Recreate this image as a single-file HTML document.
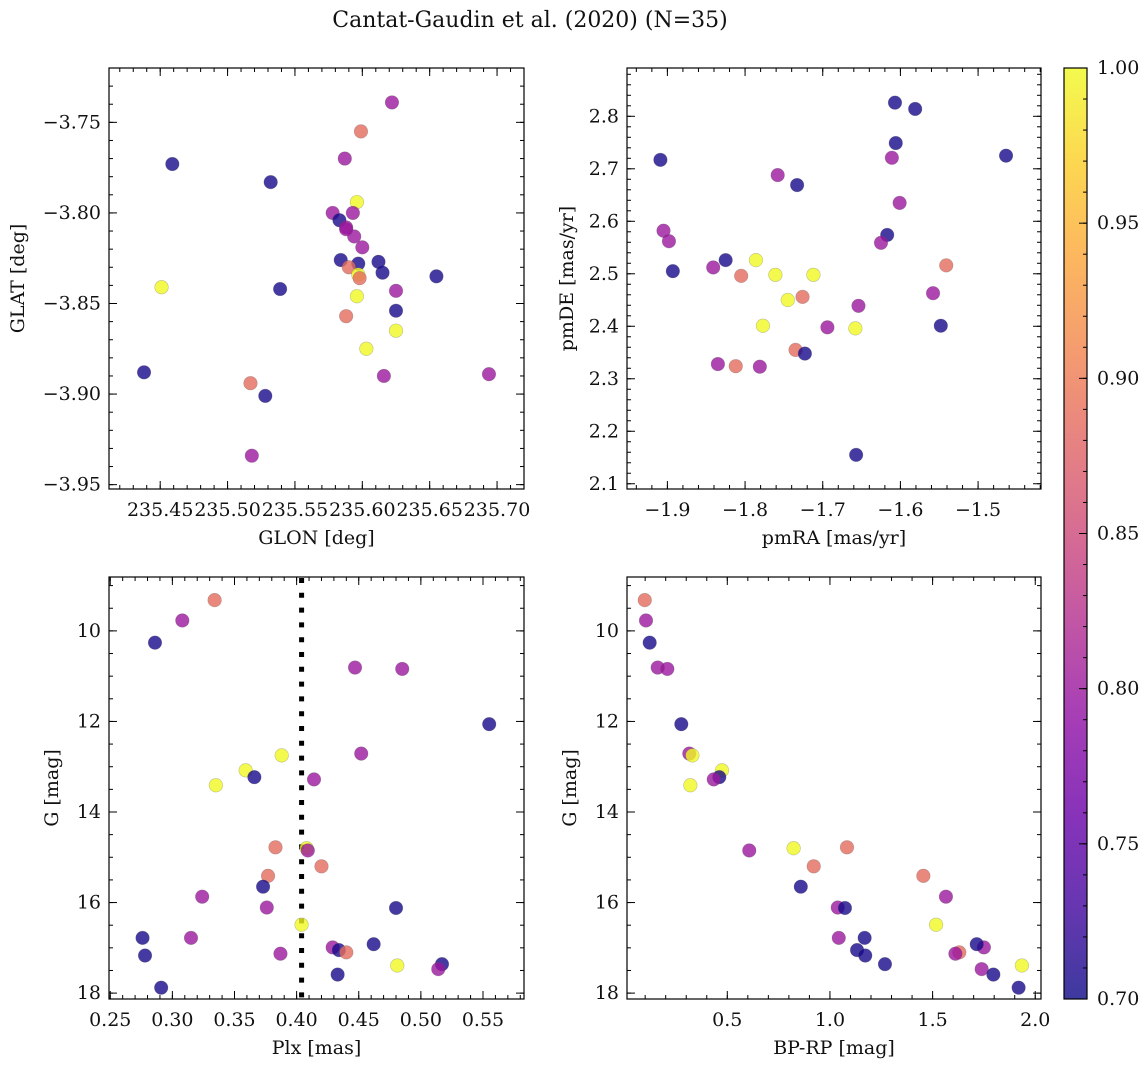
<!DOCTYPE html>
<html><head><meta charset="utf-8"><style>
html,body{margin:0;padding:0;background:#fff;}
svg{display:block;font-family:"DejaVu Serif","Liberation Serif",serif;}
</style></head><body>
<svg id="fig" width="1148" height="1067" viewBox="0 0 1148 1067" xmlns="http://www.w3.org/2000/svg">
<defs>
<linearGradient id="cbgrad" x1="0" y1="1" x2="0" y2="0"></linearGradient>
</defs>
<text x="530" y="27" font-size="22" text-anchor="middle" fill="#111">Cantat-Gaudin et al. (2020) (N=35)</text>
</svg>
<script>
// ---- data ----
const glon = [235.622,235.599,235.459,235.587,235.532,235.596,235.578,235.593,235.583,235.588,235.588,235.594,235.600,235.584,235.597,235.612,235.590,235.615,235.597,235.598,235.655,235.451,235.539,235.625,235.596,235.625,235.588,235.625,235.603,235.438,235.694,235.616,235.517,235.528,235.518];
const glat = [-3.739,-3.755,-3.773,-3.770,-3.783,-3.794,-3.800,-3.800,-3.804,-3.808,-3.809,-3.813,-3.819,-3.826,-3.828,-3.827,-3.830,-3.833,-3.834,-3.836,-3.835,-3.841,-3.842,-3.843,-3.846,-3.854,-3.857,-3.865,-3.875,-3.888,-3.889,-3.890,-3.894,-3.901,-3.934];
const probPos = [0.80,0.886,0.705,0.80,0.705,1.0,0.80,0.80,0.705,0.80,0.80,0.80,0.80,0.705,0.705,0.705,0.886,0.705,1.0,0.886,0.705,1.0,0.705,0.80,1.0,0.705,0.886,1.0,1.0,0.705,0.80,0.80,0.886,0.705,0.80];

const pmra = [-1.607,-1.581,-1.909,-1.464,-1.606,-1.611,-1.758,-1.733,-1.601,-1.905,-1.898,-1.825,-1.617,-1.625,-1.893,-1.841,-1.805,-1.786,-1.761,-1.712,-1.541,-1.726,-1.745,-1.558,-1.654,-1.777,-1.694,-1.658,-1.548,-1.835,-1.812,-1.781,-1.735,-1.723,-1.657];
const pmde = [2.826,2.814,2.717,2.725,2.749,2.721,2.688,2.669,2.635,2.582,2.562,2.526,2.574,2.559,2.505,2.512,2.496,2.526,2.498,2.498,2.516,2.456,2.450,2.463,2.439,2.401,2.398,2.396,2.401,2.328,2.324,2.323,2.355,2.348,2.155];
const probPm = [0.705,0.705,0.705,0.705,0.705,0.80,0.80,0.705,0.80,0.80,0.80,0.705,0.705,0.80,0.705,0.80,0.886,1.0,1.0,1.0,0.886,0.886,1.0,0.80,0.80,1.0,0.80,1.0,0.705,0.80,0.886,0.80,0.886,0.705,0.705];

const plx  = [0.334,0.308,0.286,0.447,0.485,0.555,0.452,0.388,0.359,0.366,0.414,0.335,0.383,0.408,0.409,0.420,0.377,0.373,0.324,0.376,0.480,0.404,0.276,0.315,0.429,0.434,0.440,0.462,0.387,0.278,0.481,0.517,0.514,0.433,0.291];
const bprp = [0.098,0.104,0.122,0.161,0.208,0.276,0.315,0.330,0.474,0.461,0.434,0.320,1.083,0.823,0.607,0.921,1.455,0.858,1.565,1.038,1.073,1.517,1.169,1.043,1.750,1.132,1.630,1.715,1.611,1.172,1.935,1.268,1.739,1.796,1.919];
const gmag = [9.32,9.77,10.26,10.81,10.84,12.06,12.71,12.75,13.08,13.23,13.28,13.41,14.78,14.80,14.85,15.20,15.41,15.65,15.87,16.11,16.12,16.49,16.78,16.78,16.99,17.05,17.10,16.92,17.13,17.17,17.39,17.36,17.47,17.59,17.88];
const probCmd = [0.886,0.80,0.705,0.80,0.80,0.705,0.80,1.0,1.0,0.705,0.80,1.0,0.886,1.0,0.80,0.886,0.886,0.705,0.80,0.80,0.705,1.0,0.705,0.80,0.80,0.705,0.886,0.705,0.80,0.705,1.0,0.705,0.80,0.705,0.705];
const plxRef = [0.404];

const cbTicks = [0.70,0.75,0.80,0.85,0.90,0.95,1.00];

// ---- rendering ----
const NS = "http://www.w3.org/2000/svg";
const svg = document.getElementById('fig');
const plasma = ['#0d0887','#41049d','#6a00a8','#8f0da4','#b12a90','#cc4778','#e16462','#f2844b','#fca636','#fcce25','#f0f921'];
function hex(h){return [1,3,5].map(i=>parseInt(h.substr(i,2),16));}
function cmap(p){
  let t=(p-0.70)/0.30; t=Math.max(0,Math.min(1,t));
  const f=t*10, i=Math.min(9,Math.floor(f)), r=f-i;
  const a=hex(plasma[i]), b=hex(plasma[i+1]);
  return 'rgb('+a.map((v,k)=>Math.round(v+(b[k]-v)*r)).join(',')+')';
}
function mk(tag, attrs, parent){
  const e=document.createElementNS(NS,tag);
  for(const k in attrs) e.setAttribute(k,attrs[k]);
  (parent||svg).appendChild(e); return e;
}
function fmt(v,d){return (v<0?'−':'')+Math.abs(v).toFixed(d);}
function range(a,b,s){const out=[];const n=Math.round((b-a)/s);for(let i=0;i<=n;i++)out.push(+(a+i*s).toFixed(6));return out;}

function panel(cfg){
  const g=mk('g',{});
  
  
  const sx=v=>cfg.x0+(v-cfg.xd[0])/(cfg.xd[1]-cfg.xd[0])*(cfg.x1-cfg.x0);
  const sy=cfg.yrev ? v=>cfg.y0+(v-cfg.yd[0])/(cfg.yd[1]-cfg.yd[0])*(cfg.y1-cfg.y0)
                    : v=>cfg.y1-(v-cfg.yd[0])/(cfg.yd[1]-cfg.yd[0])*(cfg.y1-cfg.y0);
  const tk=mk('g',{stroke:'#000','stroke-width':1},g);
  
  
  const inX=v=>v>=cfg.xd[0]-1e-9&&v<=cfg.xd[1]+1e-9, inY=v=>v>=Math.min(...cfg.yd)-1e-9&&v<=Math.max(...cfg.yd)+1e-9;
  range(cfg.xMinor[0],cfg.xMinor[1],cfg.xMinor[2]).filter(inX).forEach(v=>{
    const x=sx(v); mk('line',{x1:x,x2:x,y1:cfg.y1,y2:cfg.y1-4},tk); mk('line',{x1:x,x2:x,y1:cfg.y0,y2:cfg.y0+4},tk);});
  range(cfg.yMinor[0],cfg.yMinor[1],cfg.yMinor[2]).filter(inY).forEach(v=>{
    const y=sy(v); mk('line',{x1:cfg.x0,x2:cfg.x0+4,y1:y,y2:y},tk); mk('line',{x1:cfg.x1,x2:cfg.x1-4,y1:y,y2:y},tk);});
  cfg.xTicks.filter(inX).forEach(v=>{
    const x=sx(v); mk('line',{x1:x,x2:x,y1:cfg.y1,y2:cfg.y1-8},tk); mk('line',{x1:x,x2:x,y1:cfg.y0,y2:cfg.y0+8},tk);
    const t=mk('text',{x:x,y:cfg.y1+27,'font-size':19,'text-anchor':'middle',fill:'#111',stroke:'none'},g);
    
    
    t.textContent=fmt(v,cfg.xDec);});
  cfg.yTicks.filter(inY).forEach(v=>{
    const y=sy(v); mk('line',{x1:cfg.x0,x2:cfg.x0+8,y1:y,y2:y},tk); mk('line',{x1:cfg.x1,x2:cfg.x1-8,y1:y,y2:y},tk);
    const t=mk('text',{x:cfg.x0-8,y:y+6,'font-size':19,'text-anchor':'end',fill:'#111'},g);
    
    
    t.textContent=fmt(v,cfg.yDec);});
  if(cfg.vline){ cfg.vline.forEach(v=>{
    const l=mk('line',{x1:sx(v),x2:sx(v),y1:cfg.y0+1,y2:cfg.y1,stroke:'#000','stroke-width':5,'stroke-dasharray':'5 9.8'},g);
    
    });}
  cfg.xs.forEach((xv,i)=>{
    const c=mk('circle',{cx:sx(xv),cy:sy(cfg.ys[i]),r:6.8,fill:cmap(cfg.ps[i]),'fill-opacity':0.8,stroke:'#555','stroke-opacity':0.35,'stroke-width':0.6},g);
    
    
  });
  const fr=mk('rect',{x:cfg.x0,y:cfg.y0,width:cfg.x1-cfg.x0,height:cfg.y1-cfg.y0,fill:'none',stroke:'#000','stroke-width':1.2},g);
  
  
  const xl=mk('text',{x:(cfg.x0+cfg.x1)/2,y:cfg.y1+55,'font-size':19,'text-anchor':'middle',fill:'#111'},g);
  
  
  xl.textContent=cfg.xlab;
  const yc=(cfg.y0+cfg.y1)/2;
  const yl=mk('text',{x:cfg.ylx,y:yc,'font-size':19,'text-anchor':'middle',fill:'#111',transform:'rotate(-90 '+cfg.ylx+' '+yc+')'},g);
  
  
  yl.textContent=cfg.ylab;
}

panel({name:'glon-glat-panel',x0:109,x1:524,y0:68,y1:489,xd:[235.412,235.720],yd:[-3.9524,-3.720],
  xTicks:range(235.45,235.70,0.05),yTicks:range(-3.95,-3.75,0.05),xMinor:[235.42,235.72,0.01],yMinor:[-3.95,-3.72,0.01],
  xDec:2,yDec:2,xs:glon,ys:glat,ps:probPos,xlab:'GLON [deg]',ylab:'GLAT [deg]',ylx:24});
panel({name:'pm-panel',x0:627,x1:1041,y0:68,y1:489,xd:[-1.952,-1.419],yd:[2.090,2.892],
  xTicks:range(-1.9,-1.5,0.1),yTicks:range(2.1,2.8,0.1),xMinor:[-1.94,-1.42,0.02],yMinor:[2.1,2.88,0.02],
  xDec:1,yDec:1,xs:pmra,ys:pmde,ps:probPm,xlab:'pmRA [mas/yr]',ylab:'pmDE [mas/yr]',ylx:573});
panel({name:'plx-g-panel',x0:109,x1:524,y0:577,y1:999,xd:[0.249,0.583],yd:[8.81,18.13],yrev:true,
  xTicks:range(0.25,0.55,0.05),yTicks:range(10,18,2),xMinor:[0.25,0.58,0.01],yMinor:[9,18,0.5],
  xDec:2,yDec:0,xs:plx,ys:gmag,ps:probCmd,vline:plxRef,xlab:'Plx [mas]',ylab:'G [mag]',ylx:58});
panel({name:'cmd-panel',x0:627,x1:1041,y0:577,y1:999,xd:[0.0115,2.028],yd:[8.81,18.13],yrev:true,
  xTicks:range(0.5,2.0,0.5),yTicks:range(10,18,2),xMinor:[0.1,2.0,0.1],yMinor:[9,18,0.5],
  xDec:1,yDec:0,xs:bprp,ys:gmag,ps:probCmd,xlab:'BP-RP [mag]',ylab:'G [mag]',ylx:576});

// colorbar
const grad=document.getElementById('cbgrad');
for(let i=0;i<=20;i++){const p=0.70+0.30*i/20;
  mk('stop',{offset:(i/20),'stop-color':cmap(p),'stop-opacity':0.8},grad);}
const cb=mk('g',{});


const cbx0=1064,cbx1=1087,cby0=68,cby1=999;
const cy=v=>cby1-(v-0.70)/0.30*(cby1-cby0);
mk('rect',{x:cbx0,y:cby0,width:cbx1-cbx0,height:cby1-cby0,fill:'url(#cbgrad)'},cb);
range(0.70,1.00,0.01).forEach(v=>{const y=cy(v);mk('line',{x1:cbx1,x2:cbx1-4,y1:y,y2:y,stroke:'#000','stroke-width':1},cb);});
cbTicks.forEach(v=>{const y=cy(v);
  mk('line',{x1:cbx1,x2:cbx1-8,y1:y,y2:y,stroke:'#000','stroke-width':1},cb);
  const t=mk('text',{x:cbx1+10,y:y+6,'font-size':19,fill:'#111'},cb);
  
  
  t.textContent=v.toFixed(2);});
mk('rect',{x:cbx0,y:cby0,width:cbx1-cbx0,height:cby1-cby0,fill:'none',stroke:'#000','stroke-width':1.2},cb);
</script>
</body></html>
